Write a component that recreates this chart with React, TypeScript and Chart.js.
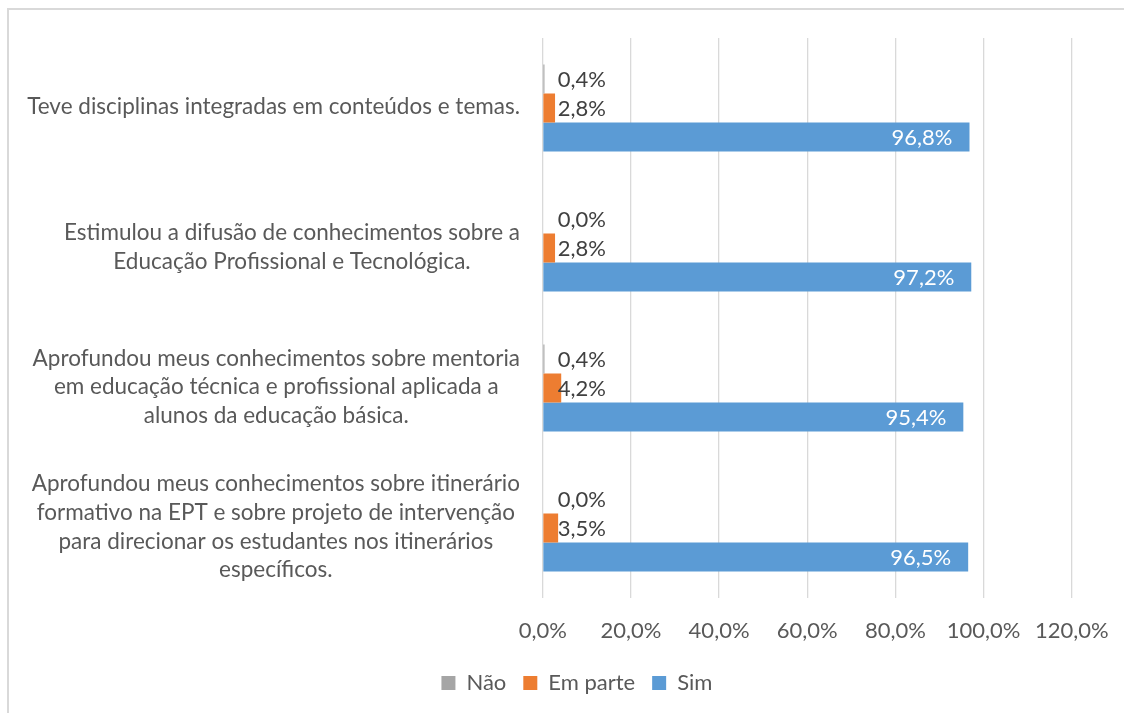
import React, { useEffect, useRef } from "react";
import { Chart, registerables } from "chart.js";

Chart.register(...registerables);

const categories: string[][] = [
  ["Teve disciplinas integradas em conteúdos e temas."],
  ["Estimulou a difusão de conhecimentos sobre a", "Educação Profissional e Tecnológica."],
  [
    "Aprofundou meus conhecimentos sobre mentoria",
    "em educação técnica e profissional aplicada a",
    "alunos da educação básica.",
  ],
  [
    "Aprofundou meus conhecimentos sobre itinerário",
    "formativo na EPT e sobre projeto de intervenção",
    "para direcionar os estudantes nos itinerários",
    "específicos.",
  ],
];

const seriesNames = ["Não", "Em parte", "Sim"];
const naoValues = [0.4, 0.0, 0.4, 0.0];
const emParteValues = [2.8, 2.8, 4.2, 3.5];
const simValues = [96.8, 97.2, 95.4, 96.5];
const xTicks = [0, 20, 40, 60, 80, 100, 120];

const FONT = "Lato, 'Open Sans', sans-serif";
const TEXT = "#595959";
const FS = 22;
const CAT_FS = 22.5;

const fmt = (v: number) => v.toFixed(1).replace(".", ",") + "%";

const labelsPlugin = {
  id: "customLabels",
  afterDatasetsDraw(chart: any) {
    const ctx = chart.ctx;
    const xScale = chart.scales.x;
    const yScale = chart.scales.y;
    const zeroX = xScale.getPixelForValue(0);
    ctx.save();
    ctx.font = `${FS}px ${FONT}`;
    ctx.textBaseline = "middle";
    chart.data.datasets.forEach((ds: any, di: number) => {
      const meta = chart.getDatasetMeta(di);
      meta.data.forEach((el: any, i: number) => {
        const v = ds.data[i];
        const t = fmt(v);
        if (di === 2) {
          ctx.fillStyle = "#ffffff";
          ctx.textAlign = "right";
          ctx.fillText(t, el.x - 17, el.y + 1);
        } else {
          ctx.fillStyle = "#404040";
          ctx.textAlign = "left";
          ctx.fillText(t, zeroX + 15, el.y + 1);
        }
      });
    });
    // category labels
    ctx.font = `${CAT_FS}px ${FONT}`;
    const lh = 28.7;
    const rightEdge = 520;
    categories.forEach((lines, i) => {
      const cy = yScale.getPixelForValue(i) - 1;
      let maxW = 0;
      lines.forEach((l) => {
        maxW = Math.max(maxW, ctx.measureText(l).width);
      });
      const cx = rightEdge - maxW / 2;
      ctx.fillStyle = TEXT;
      ctx.textAlign = "center";
      lines.forEach((l, k) => {
        const y = cy + (k - (lines.length - 1) / 2) * lh;
        ctx.fillText(l, cx, y);
      });
    });
    ctx.restore();
  },
};

export default function App() {
  const ref = useRef<HTMLCanvasElement | null>(null);
  useEffect(() => {
    if (!ref.current) return;
    const chart = new Chart(ref.current, {
      type: "bar",
      data: {
        labels: categories.map((c) => c.join(" ")),
        datasets: [
          { label: seriesNames[0], data: naoValues, backgroundColor: "#a5a5a5" },
          { label: seriesNames[1], data: emParteValues, backgroundColor: "#ed7d31" },
          { label: seriesNames[2], data: simValues, backgroundColor: "#5b9bd5" },
        ],
      },
      options: {
        indexAxis: "y",
        animation: false,
        responsive: false,
        maintainAspectRatio: false,
        datasets: {
          bar: { categoryPercentage: 0.621, barPercentage: 1.0 },
        },
        layout: { padding: { left: 82, right: 52.2, top: 38, bottom: 9 } },
        scales: {
          x: {
            min: 0,
            max: 120,
            afterBuildTicks: (scale: any) => {
              scale.ticks = xTicks.map((v) => ({ value: v }));
            },
            afterFit: (scale: any) => {
              scale.height = 57;
              scale.paddingRight = 0;
              scale.paddingLeft = 0;
            },
            grid: { color: "#d9d9d9", lineWidth: 1.3, drawTicks: false },
            border: { display: false },
            ticks: {
              padding: 20,
              color: TEXT,
              font: { family: FONT, size: FS },
              callback: (v: any) => fmt(Number(v)),
            },
          },
          y: {
            afterFit: (scale: any) => {
              scale.width = 460.7;
            },
            grid: { display: false },
            border: { display: false },
            ticks: { display: false },
          },
        },
        plugins: {
          legend: {
            position: "bottom",
            labels: {
              boxWidth: 14,
              boxHeight: 14,
              padding: 17,
              color: TEXT,
              font: { family: FONT, size: FS },
            },
          },
          tooltip: { enabled: false },
        },
      },
      plugins: [labelsPlugin],
    });
    return () => chart.destroy();
  }, []);

  return (
    <div
      style={{
        position: "fixed",
        left: 0,
        top: 0,
        width: 1124,
        height: 713,
        overflow: "hidden",
        background: "#ffffff",
      }}
    >
      <div
        style={{
          position: "absolute",
          left: 7,
          top: 8,
          width: 1300,
          height: 900,
          border: "2px solid #d9d9d9",
        }}
      />
      <canvas
        ref={ref}
        width={1124}
        height={713}
        style={{ position: "absolute", left: 0, top: 0, width: 1124, height: 713 }}
      />
    </div>
  );
}
